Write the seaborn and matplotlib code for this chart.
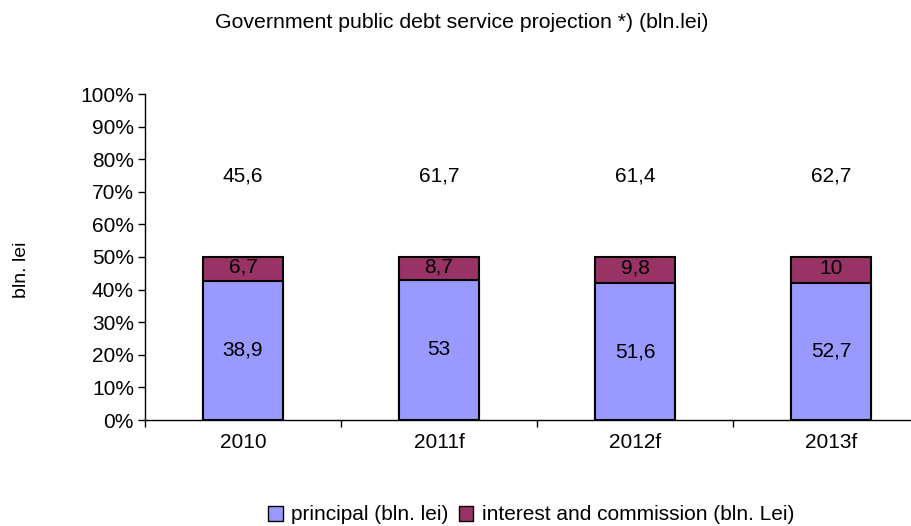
import matplotlib
matplotlib.use("Agg")
import matplotlib.pyplot as plt
import seaborn as sns
import pandas as pd
import numpy as np
from matplotlib.patches import Patch
from matplotlib.ticker import PercentFormatter

years = ["2010", "2011f", "2012f", "2013f"]
principal = [38.9, 53.0, 51.6, 52.7]
interest = [6.7, 8.7, 9.8, 10.0]
total = [45.6, 61.7, 61.4, 62.7]

C_PRINCIPAL = "#9999FF"
C_INTEREST = "#993366"

sns.set_theme(style="white")
plt.rcParams["font.family"] = ["Liberation Sans", "DejaVu Sans"]
plt.rcParams["text.color"] = "black"
plt.rcParams["xtick.color"] = "black"
plt.rcParams["ytick.color"] = "black"
plt.rcParams["axes.labelcolor"] = "black"

p = np.array(principal)
i = np.array(interest)
t = np.array(total)
stack_sum = p + i + t  # series stacked to 100%, total series is invisible
df = pd.DataFrame({
    "year": years,
    "principal_pct": p / stack_sum * 100,
    "top_pct": (p + i) / stack_sum * 100,
    "total_mid_pct": (p + i + t / 2) / stack_sum * 100,
})

fig = plt.figure(figsize=(9.12, 5.26), dpi=100)
ax = fig.add_axes([145 / 912, 106 / 526, 784 / 912, 326 / 526])

FS = 15

bw = 0.41
sns.barplot(data=df, x="year", y="top_pct", color=C_INTEREST, saturation=1,
            width=bw, edgecolor="black", linewidth=1.5, ax=ax)
sns.barplot(data=df, x="year", y="principal_pct", color=C_PRINCIPAL, saturation=1,
            width=bw, edgecolor="black", linewidth=1.5, ax=ax)


def fmt(v):
    s = f"{v:g}"
    return s.replace(".", ",")


for k in range(len(years)):
    ax.text(k, df["principal_pct"][k] / 2, fmt(principal[k]), ha="center", va="center",
            fontsize=FS, color="black")
    ax.text(k, (df["principal_pct"][k] + df["top_pct"][k]) / 2 + 0.5, fmt(interest[k]),
            ha="center", va="center", fontsize=FS, color="black")
    ax.text(k, df["total_mid_pct"][k], fmt(total[k]), ha="center", va="center",
            fontsize=FS, color="black")

ax.set_xlim(-0.5, 3.5)
ax.set_ylim(0, 100)
ax.set_yticks(np.arange(0, 101, 10))
ax.yaxis.set_major_formatter(PercentFormatter(decimals=0))
ax.set_xticks(range(len(years)))
ax.set_xticks(np.arange(-0.5, 4.0, 1.0), minor=True)
ax.tick_params(axis="x", which="major", length=0, labelsize=FS, pad=9, labelcolor="black")
ax.tick_params(axis="x", which="minor", length=5, width=1, color="black", direction="out", bottom=True)
ax.tick_params(axis="y", length=5, width=1, color="black", direction="out", left=True,
               labelsize=FS, pad=3, labelcolor="black")
ax.set_xlabel("")
ax.set_ylabel("")

for side in ["top", "right"]:
    ax.spines[side].set_visible(False)
for side in ["left", "bottom"]:
    ax.spines[side].set_color("black")
    ax.spines[side].set_linewidth(1)

fig.text(22 / 912, 1 - 270 / 526, "bln. lei", rotation=90, ha="center", va="center",
         fontsize=14, color="black")

fig.text(462 / 912, 1 - 22 / 526, "Government public debt service projection *) (bln.lei)",
         ha="center", va="center", fontsize=15.3, color="black")

handles = [Patch(facecolor=C_PRINCIPAL, edgecolor="black", linewidth=1),
           Patch(facecolor=C_INTEREST, edgecolor="black", linewidth=1)]
leg = fig.legend(handles, ["principal (bln. lei)", "interest and commission (bln. Lei)"],
                 loc="center", bbox_to_anchor=(531 / 912, 1 - 515 / 526), ncol=2, frameon=False,
                 fontsize=15, handlelength=0.7, handleheight=0.7, handletextpad=0.4,
                 columnspacing=0.5, borderpad=0)
for txt in leg.get_texts():
    txt.set_color("black")

fig.savefig("out.png", dpi=100)
